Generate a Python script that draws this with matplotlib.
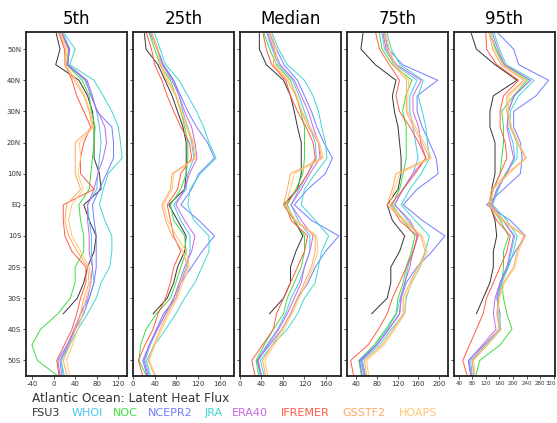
import matplotlib
matplotlib.use("Agg")
import matplotlib.pyplot as plt
from matplotlib.transforms import ScaledTranslation

lats = [55, 50, 45, 40, 35, 30, 25, 20, 15, 10, 5, 0, -5, -10, -15, -20, -25, -30, -35, -40, -45, -50, -55]
fsu_lats = lats[:19]

datasets = ["FSU3", "WHOI", "NOC", "NCEPR2", "JRA", "ERA40", "IFREMER", "GSSTF2", "HOAPS"]
colors = ["#333333", "#4cc3f0", "#3fdc3f", "#6f7dff", "#3fd6d0", "#c966e0", "#ff5a45", "#ffa860", "#ffc870"]

titles = ["5th", "25th", "Median", "75th", "95th"]

p05 = {
    "FSU3": [5, 12, 4, 47, 63, 72, 75, 75, 75, 85, 88, 56, 66, 79, 75, 63, 56, 44, 18],
    "WHOI": [18, 30, 26, 58, 70, 80, 85, 88, 85, 82, 80, 63, 66, 70, 70, 72, 75, 66, 50, 40, 28, 14, 18],
    "NOC": [15, 28, 24, 53, 66, 70, 77, 75, 72, 69, 66, 47, 50, 56, 56, 40, 40, 31, 8, -24, -40, -30, 8],
    "NCEPR2": [14, 28, 27, 62, 72, 80, 108, 111, 111, 98, 85, 72, 75, 79, 79, 79, 75, 66, 56, 40, 25, 8, 12],
    "JRA": [20, 40, 30, 75, 92, 108, 120, 124, 127, 101, 92, 85, 95, 108, 108, 104, 88, 79, 63, 45, 30, 14, 20],
    "ERA40": [16, 30, 25, 60, 69, 82, 95, 98, 92, 82, 75, 63, 63, 66, 66, 72, 69, 63, 50, 38, 26, 12, 15],
    "IFREMER": [10, 20, 22, 34, 43, 56, 69, 56, 50, 50, 75, 18, 18, 21, 34, 60, 60, 50, 43, 34, 20, 6, 10],
    "GSSTF2": [12, 22, 20, 38, 56, 66, 72, 40, 40, 40, 50, 24, 21, 28, 44, 63, 66, 56, 50, 40, 30, 18, 25],
    "HOAPS": [14, 25, 22, 42, 58, 68, 74, 48, 50, 45, 55, 34, 28, 34, 50, 66, 70, 60, 54, 45, 35, 24, 30],
}

p25 = {
    "FSU3": [21, 24, 46, 59, 72, 82, 92, 98, 98, 98, 95, 66, 82, 98, 95, 82, 75, 63, 37],
    "WHOI": [35, 45, 55, 75, 85, 92, 101, 108, 112, 101, 98, 75, 88, 105, 105, 98, 88, 75, 60, 45, 32, 22, 30],
    "NOC": [30, 40, 50, 69, 79, 88, 95, 101, 101, 98, 88, 69, 75, 95, 98, 88, 79, 69, 43, 24, 14, 11, 25],
    "NCEPR2": [32, 45, 56, 75, 88, 101, 117, 137, 150, 121, 108, 88, 121, 150, 127, 108, 88, 79, 56, 43, 30, 18, 26],
    "JRA": [40, 50, 60, 85, 101, 117, 130, 140, 153, 124, 105, 101, 112, 140, 140, 127, 114, 95, 79, 60, 40, 25, 32],
    "ERA40": [33, 44, 54, 72, 85, 95, 108, 114, 118, 104, 95, 79, 95, 114, 108, 95, 85, 75, 60, 45, 30, 20, 28],
    "IFREMER": [25, 34, 40, 53, 63, 75, 88, 104, 108, 88, 82, 63, 69, 75, 88, 75, 69, 60, 46, 37, 22, 10, 18],
    "GSSTF2": [35, 46, 50, 62, 79, 88, 98, 110, 114, 72, 69, 53, 60, 72, 92, 101, 88, 79, 63, 50, 38, 28, 40],
    "HOAPS": [34, 44, 52, 65, 80, 90, 100, 112, 116, 75, 72, 56, 64, 80, 98, 104, 92, 82, 66, 53, 40, 30, 42],
}

p50 = {
    "FSU3": [36, 36, 49, 81, 94, 101, 107, 114, 114, 114, 107, 81, 101, 117, 104, 94, 94, 81, 55],
    "WHOI": [50, 60, 72, 98, 110, 120, 130, 140, 142, 126, 110, 95, 108, 130, 130, 120, 110, 95, 85, 70, 50, 32, 38],
    "NOC": [45, 55, 68, 94, 104, 113, 120, 120, 120, 117, 104, 88, 101, 120, 120, 114, 101, 88, 81, 62, 45, 30, 35],
    "NCEPR2": [55, 68, 82, 107, 120, 133, 143, 156, 172, 159, 126, 101, 133, 184, 159, 140, 127, 107, 94, 78, 55, 32, 40],
    "JRA": [60, 72, 88, 120, 136, 146, 152, 159, 162, 140, 120, 114, 140, 165, 152, 146, 140, 120, 107, 88, 60, 38, 45],
    "ERA40": [52, 62, 75, 101, 114, 127, 136, 146, 149, 130, 114, 95, 114, 136, 130, 120, 114, 101, 88, 72, 52, 34, 40],
    "IFREMER": [43, 49, 59, 85, 94, 107, 123, 136, 140, 126, 107, 85, 95, 126, 120, 107, 94, 81, 68, 62, 42, 22, 28],
    "GSSTF2": [55, 65, 62, 88, 104, 114, 127, 146, 152, 94, 88, 81, 101, 140, 140, 133, 120, 107, 94, 78, 60, 42, 48],
    "HOAPS": [58, 68, 66, 92, 106, 116, 130, 148, 155, 101, 94, 85, 104, 143, 145, 136, 124, 110, 97, 82, 64, 46, 52],
}

p75 = {
    "FSU3": [53, 49, 77, 117, 110, 114, 121, 124, 127, 127, 121, 100, 110, 134, 124, 107, 107, 100, 70],
    "WHOI": [90, 95, 115, 158, 144, 144, 150, 155, 160, 150, 130, 115, 140, 160, 150, 140, 135, 125, 118, 100, 78, 48, 55],
    "NOC": [85, 90, 110, 148, 136, 130, 137, 137, 137, 131, 124, 110, 131, 154, 147, 137, 131, 121, 117, 97, 75, 45, 50],
    "NCEPR2": [95, 102, 130, 198, 158, 158, 168, 182, 195, 199, 158, 131, 168, 212, 187, 158, 137, 127, 124, 103, 80, 46, 52],
    "JRA": [100, 108, 125, 170, 160, 168, 175, 178, 182, 166, 144, 127, 154, 182, 174, 164, 147, 137, 134, 108, 85, 52, 58],
    "ERA40": [92, 98, 118, 166, 150, 150, 161, 165, 175, 150, 131, 114, 144, 160, 150, 144, 134, 127, 124, 103, 80, 50, 57],
    "IFREMER": [78, 85, 104, 124, 117, 124, 144, 161, 175, 154, 131, 107, 124, 158, 151, 137, 124, 110, 100, 83, 63, 29, 35],
    "GSSTF2": [95, 100, 112, 138, 137, 137, 151, 168, 182, 117, 110, 100, 131, 165, 174, 160, 144, 131, 131, 112, 90, 56, 60],
    "HOAPS": [98, 104, 116, 142, 140, 140, 155, 172, 186, 124, 114, 104, 135, 168, 178, 163, 148, 135, 134, 115, 94, 60, 64],
}

p95 = {
    "FSU3": [77, 92, 147, 212, 142, 132, 132, 147, 147, 147, 137, 132, 147, 152, 142, 142, 132, 112, 92],
    "WHOI": [135, 150, 175, 250, 205, 185, 185, 200, 205, 180, 155, 135, 170, 205, 195, 185, 165, 155, 155, 160, 120, 75, 80],
    "NOC": [130, 150, 170, 242, 202, 167, 172, 172, 167, 162, 142, 132, 162, 187, 172, 172, 167, 172, 182, 197, 162, 102, 90],
    "NCEPR2": [157, 202, 217, 305, 268, 202, 202, 222, 227, 222, 172, 122, 192, 237, 207, 182, 162, 152, 162, 160, 115, 68, 75],
    "JRA": [145, 160, 180, 262, 217, 192, 192, 212, 212, 177, 157, 140, 182, 212, 202, 187, 167, 157, 157, 165, 125, 80, 85],
    "ERA40": [140, 155, 175, 252, 202, 187, 182, 192, 202, 182, 152, 137, 172, 202, 192, 182, 162, 147, 142, 150, 110, 70, 78],
    "IFREMER": [120, 122, 152, 217, 172, 162, 162, 177, 182, 162, 142, 130, 152, 192, 182, 162, 142, 122, 112, 92, 72, 52, 65],
    "GSSTF2": [130, 140, 165, 232, 182, 182, 192, 212, 237, 182, 137, 128, 167, 232, 212, 202, 172, 157, 152, 160, 120, 80, 85],
    "HOAPS": [135, 145, 170, 238, 188, 186, 196, 216, 240, 188, 142, 132, 172, 236, 216, 206, 176, 160, 156, 164, 124, 84, 88],
}

panels = [p05, p25, p50, p75, p95]
xlims = [(-51, 136), (0, 186), (0, 188), (22, 218), (26, 324)]
xticks = [
    [-40, 0, 40, 80, 120],
    [0, 40, 80, 120, 160],
    [0, 40, 80, 120, 160],
    [40, 80, 120, 160, 200],
    [40, 80, 120, 160, 200, 240, 280, 320],
]
tick_sizes = [5, 5, 5, 5, 4.0]

lat_ticks = [50, 40, 30, 20, 10, 0, -10, -20, -30, -40, -50]
lat_labels = ["50N", "40N", "30N", "20N", "10N", "EQ", "10S", "20S", "30S", "40S", "50S"]

W, H = 557, 423
fig = plt.figure(figsize=(W / 100, H / 100), dpi=100)

lefts = [26, 133, 240, 347, 454]
for i, data in enumerate(panels):
    ax = fig.add_axes([lefts[i] / W, (H - 376) / H, 101 / W, 344 / H])
    for name, color in zip(datasets, colors):
        y = fsu_lats if name == "FSU3" else lats
        ax.plot(data[name], y, color=color, lw=0.7)
    ax.set_xlim(*xlims[i])
    ax.set_ylim(-55, 55.5)
    ax.set_xticks(xticks[i])
    ax.set_xticklabels([str(v) for v in xticks[i]], fontsize=tick_sizes[i])
    ax.set_yticks(lat_ticks)
    if i == 0:
        ax.set_yticklabels(lat_labels, fontsize=5)
    else:
        ax.set_yticklabels([])
        ax.tick_params(axis="y", length=0)
    ax.tick_params(length=2, width=0.6, pad=1.5, colors="#333333")
    for sp in ax.spines.values():
        sp.set_linewidth(1.3)
        sp.set_color("#222222")
    ax.set_title(titles[i], fontsize=12, pad=6)
    if i == 4:
        # nudge the last label so it stays inside the figure
        last = ax.xaxis.get_major_ticks()[-1].label1
        last.set_transform(last.get_transform() + ScaledTranslation(-3 / 100, 0, fig.dpi_scale_trans))

fig.text(32 / W, 1 - 398 / H, "Atlantic Ocean: Latent Heat Flux", fontsize=8.7, va="center", color="#333333")
legend_x = [32, 72, 113, 148, 205, 232, 281, 342, 399]
for name, color, x in zip(datasets, colors, legend_x):
    fig.text(x / W, 1 - 413 / H, name, fontsize=8, va="center", color=color)

fig.savefig("out.png", dpi=100)
